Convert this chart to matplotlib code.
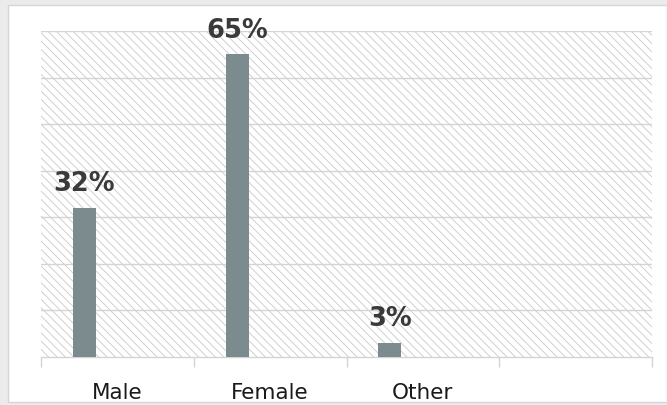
import matplotlib
matplotlib.use("Agg")
import matplotlib.pyplot as plt
from matplotlib.patches import Rectangle
from matplotlib.ticker import FixedLocator, NullFormatter

# Gender split of respondents
categories = ["Male", "Female", "Other", ""]
shares = [32, 65, 3, None]
value_labels = ["32%", "65%", "3%", ""]

plt.rcParams["hatch.linewidth"] = 0.6
plt.rcParams["hatch.color"] = "#c9c9c9"

W, H = 667, 405
fig = plt.figure(figsize=(W / 100, H / 100), dpi=100, facecolor="#ebebeb")

# white chart card on the grey page
card = Rectangle((8 / W, 3 / H), 1 - 8 / W, (402 - 5) / H, transform=fig.transFigure,
                 facecolor="white", edgecolor="#d6d6d6", linewidth=1.0, zorder=-10)
fig.patches.append(card)

ax = fig.add_axes([41 / W, (H - 357) / H, (652 - 41) / W, (357 - 31) / H])
ax.set_facecolor("none")

ax.set_xlim(-0.5, 3.5)
ax.set_ylim(0, 70)

# diagonal hatched plot area
ax.add_patch(Rectangle((0, 0), 1, 1, transform=ax.transAxes, facecolor="white",
                       edgecolor="#c9c9c9", hatch="\\\\\\\\", linewidth=0, zorder=0))

# horizontal gridlines
for v in range(10, 71, 10):
    ax.axhline(v, color="#d4d4d4", linewidth=1.0, zorder=1)

bar_offset = -0.216
bar_width = 0.15
bar_color = "#7b8b8e"
for i, (s, lab) in enumerate(zip(shares, value_labels)):
    if s is None:
        continue
    x = i + bar_offset
    ax.bar(x, s, width=bar_width, color=bar_color, zorder=3)
    ax.annotate(lab, (x, s), xytext=(0, 12), textcoords="offset points",
                ha="center", va="baseline", fontsize=18.5, fontweight="bold",
                color="#3a3a3a", family="DejaVu Sans", zorder=4)

for sp in ["left", "right", "top"]:
    ax.spines[sp].set_visible(False)
ax.spines["bottom"].set_color("#d4d4d4")
ax.spines["bottom"].set_linewidth(1.0)

ax.set_yticks([])
ax.set_xticks(range(len(categories)))
ax.set_xticklabels(categories, fontsize=15.5, color="#1a1a1a", family="DejaVu Sans")
ax.xaxis.set_minor_locator(FixedLocator([-0.5, 0.5, 1.5, 2.5, 3.5]))
ax.xaxis.set_minor_formatter(NullFormatter())
ax.tick_params(axis="x", which="major", length=0, pad=18.5)
ax.tick_params(axis="x", which="minor", length=7.5, width=1.0, color="#d4d4d4",
               direction="out")

fig.savefig("out.png", dpi=100, facecolor=fig.get_facecolor())
